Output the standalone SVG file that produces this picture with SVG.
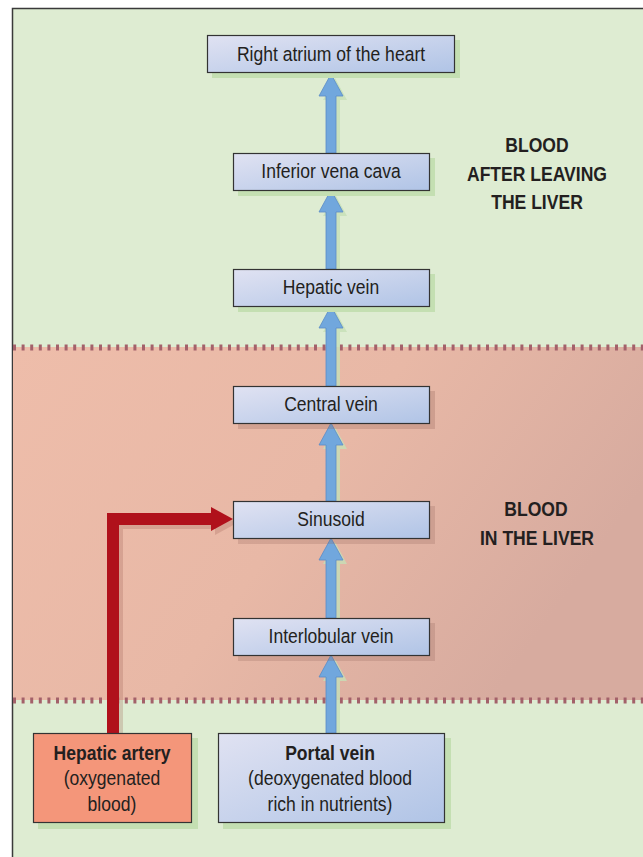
<svg xmlns="http://www.w3.org/2000/svg" width="643" height="857" viewBox="0 0 643 857">
<defs>
<linearGradient id="boxg" x1="0" y1="0" x2="1" y2="1">
<stop offset="0" stop-color="#e0e2f2"/>
<stop offset="1" stop-color="#b0c4e6"/>
</linearGradient>
<linearGradient id="zoneg" x1="0" y1="0" x2="1" y2="0.4">
<stop offset="0" stop-color="#eebdaa"/>
<stop offset="0.55" stop-color="#e8b8a6"/>
<stop offset="1" stop-color="#d7ab9f"/>
</linearGradient>
<style>
.box{fill:url(#boxg);stroke:#333;stroke-width:1.2}
.shadow{fill:#c4dfb2}
.t{font-family:"Liberation Sans",Arial,sans-serif;font-size:19.5px;fill:#231f20;text-anchor:middle}
.b{font-weight:bold}
.arrow{fill:#71a7dd;stroke:#5a8cc6;stroke-width:0.8}
.ashadow{fill:#c6e0b6;opacity:0.8}
.dots{stroke:#a3616a;stroke-width:6;stroke-dasharray:3 5.6;fill:none}
</style>
</defs>
<rect x="0" y="0" width="643" height="857" fill="#ffffff"/>
<rect x="12.5" y="8.5" width="640" height="860" fill="#deecd2" stroke="#3a3a3a" stroke-width="1.5"/>
<rect x="13" y="347" width="630" height="353" fill="url(#zoneg)"/>
<line class="dots" x1="13" y1="347.5" x2="643" y2="347.5"/>
<line class="dots" x1="13" y1="700.5" x2="643" y2="700.5"/>

<g id="labels">
<text class="t b" transform="translate(537,152) scale(0.9,1)">BLOOD</text>
<text class="t b" transform="translate(537,181) scale(0.9,1)">AFTER LEAVING</text>
<text class="t b" transform="translate(537,209) scale(0.9,1)">THE LIVER</text>
<text class="t b" transform="translate(536,516) scale(0.9,1)">BLOOD</text>
<text class="t b" transform="translate(537,545) scale(0.9,1)">IN THE LIVER</text>
</g>

<g id="connectors">
<g id="a1"><path class="ashadow" d="M330,157 L330,100 L323,100 L335,78 L347,100 L340,100 L340,157 Z"/><path class="arrow" d="M326,153 L326,96 L319,96 L331,74 L343,96 L336,96 L336,153 Z"/></g>
<g id="a2"><path class="ashadow" d="M330,273 L330,216 L323,216 L335,194 L347,216 L340,216 L340,273 Z"/><path class="arrow" d="M326,269 L326,212 L319,212 L331,190 L343,212 L336,212 L336,269 Z"/></g>
<g id="a3"><path class="ashadow" d="M330,390 L330,332 L323,332 L335,310 L347,332 L340,332 L340,390 Z"/><path class="arrow" d="M326,386 L326,328 L319,328 L331,306 L343,328 L336,328 L336,386 Z"/></g>
<g id="a4"><path class="ashadow" d="M330,505 L330,449 L323,449 L335,427 L347,449 L340,449 L340,505 Z" opacity="0.2"/><path class="arrow" d="M326,501 L326,445 L319,445 L331,423 L343,445 L336,445 L336,501 Z"/></g>
<g id="a5"><path class="ashadow" d="M330,622 L330,564 L323,564 L335,542 L347,564 L340,564 L340,622 Z" opacity="0.2"/><path class="arrow" d="M326,618 L326,560 L319,560 L331,538 L343,560 L336,560 L336,618 Z"/></g>
<g id="a6"><path class="ashadow" d="M330,737 L330,681 L323,681 L335,659 L347,681 L340,681 L340,737 Z" opacity="0.3"/><path class="arrow" d="M326,733 L326,677 L319,677 L331,655 L343,677 L336,677 L336,733 Z"/></g>
<g id="artery">
<path d="M117,737 L117,523 L216,523" fill="none" stroke="#9a5a50" stroke-opacity="0.25" stroke-width="12"/>
<polygon points="215,511 237,523 215,535" fill="#9a5a50" fill-opacity="0.25"/>
<path d="M113,733 L113,519 L213,519" fill="none" stroke="#b0111b" stroke-width="12"/>
<polygon points="211,507 233,519 211,531" fill="#b0111b"/>
</g>
</g>

<g id="right-atrium"><rect class="shadow" x="212" y="40" width="248" height="38"/><rect class="box" x="207.5" y="35.5" width="247" height="37"/><text class="t" transform="translate(331,61) scale(0.9,1)">Right atrium of the heart</text></g>
<g id="inferior-vena-cava"><rect class="shadow" x="238" y="158" width="197" height="38"/><rect class="box" x="233.5" y="153.5" width="196" height="37"/><text class="t" transform="translate(331,178) scale(0.9,1)">Inferior vena cava</text></g>
<g id="hepatic-vein"><rect class="shadow" x="238" y="274" width="197" height="38"/><rect class="box" x="233.5" y="269.5" width="196" height="37"/><text class="t" transform="translate(331,294) scale(0.9,1)">Hepatic vein</text></g>
<g id="central-vein"><rect x="238" y="391" width="197" height="38" fill="#8a5a50" fill-opacity="0.25"/><rect class="box" x="233.5" y="386.5" width="196" height="37"/><text class="t" transform="translate(331,411) scale(0.9,1)">Central vein</text></g>
<g id="sinusoid"><rect x="238" y="506" width="197" height="38" fill="#8a5a50" fill-opacity="0.22"/><rect class="box" x="233.5" y="501.5" width="196" height="37"/><text class="t" transform="translate(331,526) scale(0.9,1)">Sinusoid</text></g>
<g id="interlobular-vein"><rect x="238" y="623" width="197" height="38" fill="#8a5a50" fill-opacity="0.22"/><rect class="box" x="233.5" y="618.5" width="196" height="37"/><text class="t" transform="translate(331,643) scale(0.9,1)">Interlobular vein</text></g>
<g id="hepatic-artery"><rect class="shadow" x="38" y="738" width="160" height="91"/><rect x="33.5" y="733.5" width="158" height="89" fill="#f4967a" stroke="#333" stroke-width="1.2"/>
<text class="t b" transform="translate(112,760) scale(0.9,1)">Hepatic artery</text><text class="t" transform="translate(112,785) scale(0.9,1)">(oxygenated</text><text class="t" transform="translate(112,811) scale(0.9,1)">blood)</text></g>
<g id="portal-vein"><rect class="shadow" x="223" y="738" width="228" height="91"/><rect class="box" x="218.5" y="733.5" width="226" height="89"/>
<text class="t b" transform="translate(330,760) scale(0.9,1)">Portal vein</text><text class="t" transform="translate(330,785) scale(0.9,1)">(deoxygenated blood</text><text class="t" transform="translate(330,811) scale(0.9,1)">rich in nutrients)</text></g>
</svg>
